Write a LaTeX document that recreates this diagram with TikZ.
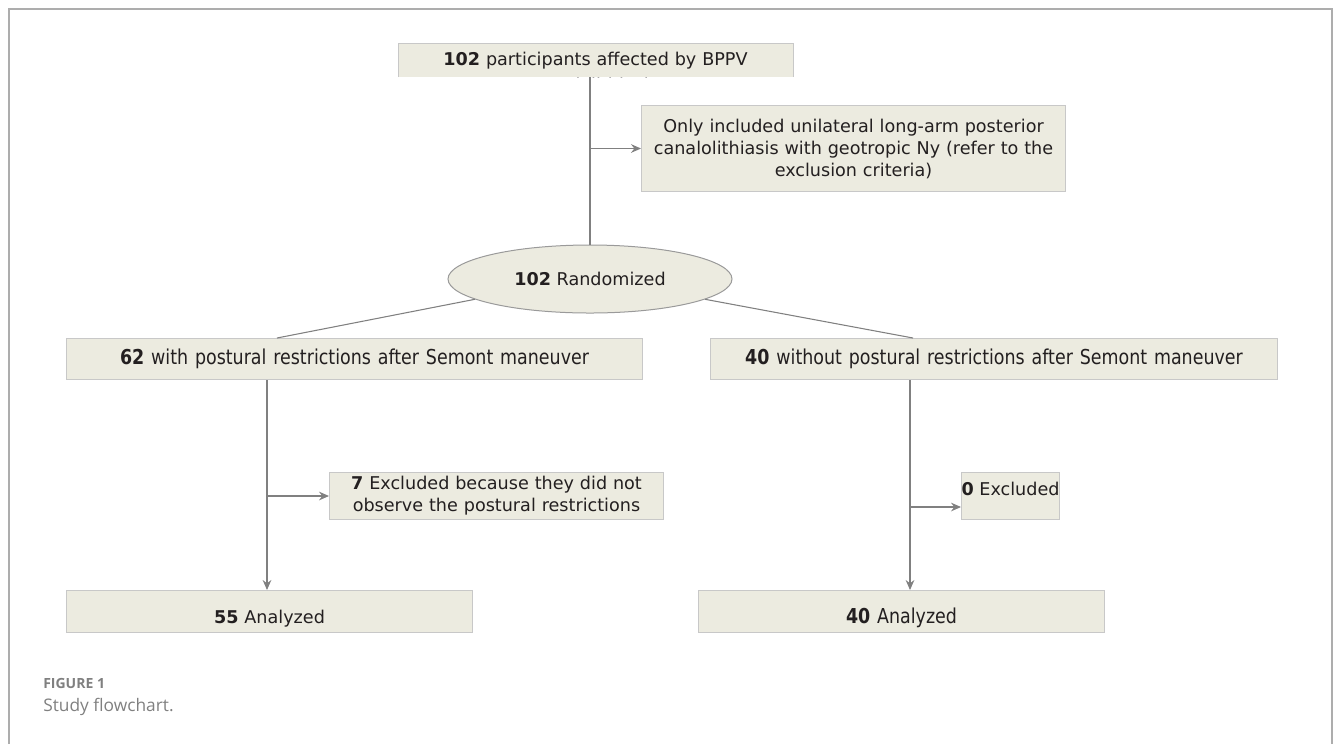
\documentclass[tikz,border=0pt]{standalone}
\usepackage{fontspec}
\setmainfont{DejaVu Sans}
\newfontfamily\condf[FakeStretch=0.85]{DejaVu Sans}
\newfontfamily\capf{Open Sans}
\usetikzlibrary{shapes.geometric,arrows.meta,calc}
\definecolor{boxfill}{HTML}{ECEBE0}
\definecolor{boxline}{HTML}{C8C8C8}
\definecolor{txtc}{HTML}{231F20}
\definecolor{connc}{HTML}{808080}
\definecolor{framec}{HTML}{ADADAD}
\definecolor{capc}{HTML}{808080}
\definecolor{ellc}{HTML}{9A9A9A}
\def\u{0.75pt}
\begin{document}
\begin{tikzpicture}[x=0.75pt,y=-0.75pt,
  box/.style={draw=boxline, fill=boxfill, line width=0.75pt, inner sep=0pt,
    text=txtc, anchor=north west, font=\fontsize{13.2}{16.5}\selectfont},
  condbox/.style={box, font=\condf\fontsize{15.4}{18}\selectfont},
  conn/.style={draw=connc, line width=0.8pt},
  arr/.style={conn, -{Stealth[length=7.5pt,width=6.5pt,inset=2.5pt]}},
]
\useasboundingbox (0,0) rectangle (1333,744);
% frame
\draw[framec, line width=1.5pt] (9,744) -- (9,9) -- (1332,9) -- (1332,744);

% top box (second line clipped)
\node[box, draw=none, minimum width=394*\u, minimum height=33*\u] (top) at (398,43) {};
\draw[boxline, line width=0.75pt] (top.south west) -- (top.north west) -- (top.north east) -- (top.south east);
\begin{scope}
  \clip (top.south west) rectangle (top.north east);
  \node[inner sep=0pt, text width=394*\u, align=center, anchor=base, text=txtc,
        font=\fontsize{13.2}{16.5}\selectfont] (toptxt) at ($(top.north)+(0,22)$)
        {\textbf{102} participants affected by BPPV\\[3pt] canalolithiasis};
\end{scope}

% criteria box
\node[box, text width=424*\u, minimum height=86*\u, align=center] (crit) at (641,105)
  {Only included unilateral long-arm posterior\\ canalolithiasis with geotropic Ny (refer to the\\ exclusion criteria)};

% randomized ellipse
\node[ellipse, draw=ellc, fill=boxfill, line width=0.75pt, minimum width=284*\u,
      minimum height=68*\u, inner sep=0pt, text=txtc,
      font=\fontsize{13.2}{16.5}\selectfont] (rand) at (590,279) {\textbf{102} Randomized};

% group boxes
\node[condbox, text width=576*\u, minimum height=41*\u, align=center] (g1) at (66,338)
  {\textbf{62} with postural restrictions after Semont maneuver};
\node[condbox, text width=567*\u, minimum height=41*\u, align=center] (g2) at (710,338)
  {\textbf{40} without postural restrictions after Semont maneuver};

% exclusion boxes
\node[box, text width=334*\u, minimum height=47*\u, align=center] (ex1) at (329,472)
  {\textbf{7} Excluded because they did not\\ observe the postural restrictions};
\node[box, minimum width=98*\u, text height=23*\u, text depth=24*\u] (ex2) at (961,472)
  {\textbf{0} Excluded};

% analyzed boxes
\node[box, text width=406*\u, text height=33*\u, text depth=9*\u, align=center] (a1) at (66,590)
  {\textbf{55} Analyzed};
\node[condbox, text width=406*\u, text height=33*\u, text depth=9*\u, align=center] (a2) at (698,590)
  {\textbf{40} Analyzed};

% helper coordinates
\coordinate (v1) at (267,0);
\coordinate (v2) at (910,0);
\coordinate (d1) at (277,0);
\coordinate (d2) at (913,0);
\coordinate (ex2a) at ($(ex2.west)+(0,11)$);

% connectors
\draw[conn] (rand.north |- top.south) -- (rand.north);
\draw[arr] (rand.north |- crit.west) -- (crit.west);
\draw[conn] (rand.190) -- (g1.north -| d1);
\draw[conn] (rand.-10) -- (g2.north -| d2);
\draw[arr] (g1.south -| v1) -- (a1.north -| v1);
\draw[arr] (v1 |- ex1.west) -- (ex1.west);
\draw[arr] (g2.south -| v2) -- (a2.north -| v2);
\draw[arr] (v2 |- ex2a) -- (ex2a);

% caption
\node[anchor=base west, inner sep=0pt, text=capc, font=\capf\bfseries\fontsize{10.5}{12}\selectfont] (figlab) at (43,688) {FIGURE 1};
\node[anchor=base west, inner sep=0pt, text=capc, font=\capf\fontsize{13}{15}\selectfont] (figcap) at (43,711) {Study flowchart.};
\end{tikzpicture}
\end{document}
